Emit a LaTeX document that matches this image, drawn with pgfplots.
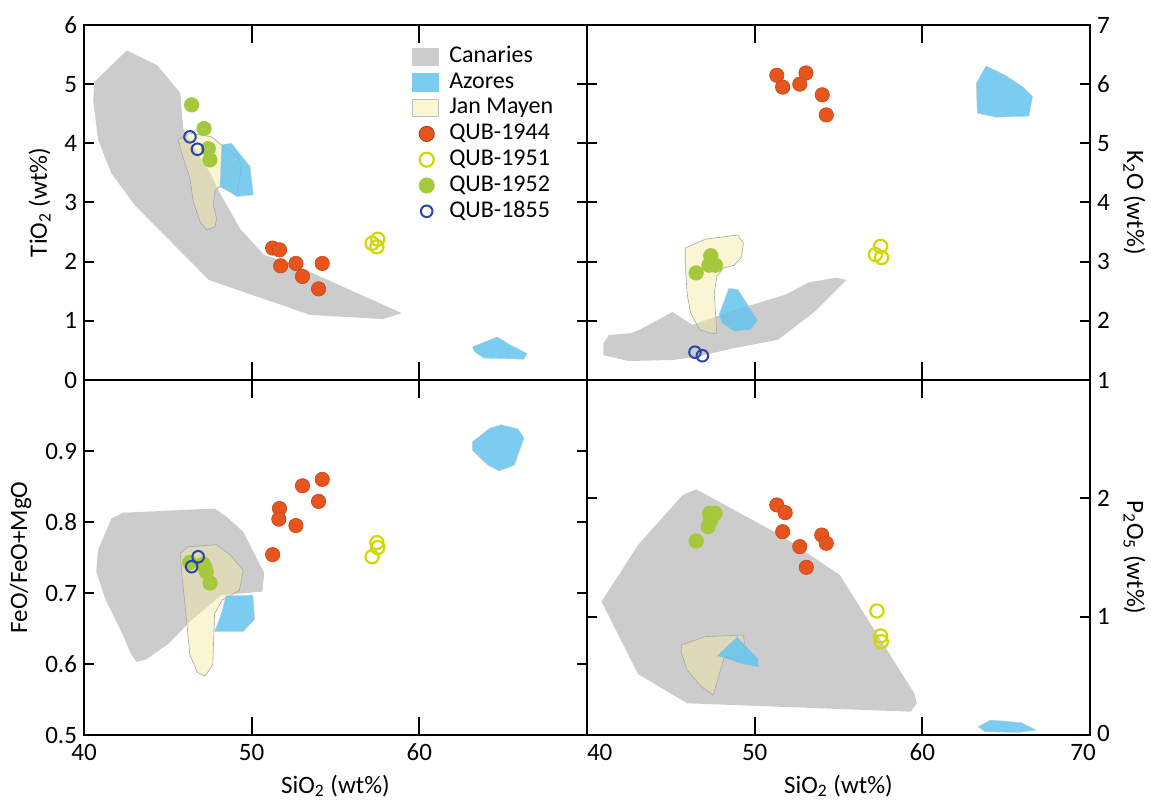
\documentclass[border=0pt]{standalone}
\usepackage{fontspec}
\setmainfont{Carlito}
\usepackage{pgfplots}
\pgfplotsset{compat=1.18}

\definecolor{canary}{RGB}{204,204,204}
\definecolor{azores}{RGB}{100,195,238}
\definecolor{janmayen}{RGB}{245,235,160}
\definecolor{q1944}{RGB}{232,84,30}
\definecolor{q1951}{RGB}{210,215,0}
\definecolor{q1952}{RGB}{165,200,60}
\definecolor{q1855}{RGB}{40,70,170}

\pgfplotsset{
  panel/.style={
    scale only axis, width=251.5pt, height=177.5pt,
    xmin=40, xmax=70, xtick={40,50,60,70},
    tick align=inside, xtick pos=both, ytick pos=both,
    axis line style={line width=1pt},
    every tick/.append style={black, line width=1pt},
    xtick style={/pgfplots/major tick length=9pt},
    ytick style={/pgfplots/major tick length=5pt},
    tick label style={font=\fontsize{12.5}{14}\selectfont},
    xticklabel style={yshift=-1pt},
    label style={font=\fontsize{12.5}{14}\selectfont},
    /pgf/number format/assume math mode=true,
  },
  canarystyle/.style={fill=canary, draw=none, forget plot},
  janstyle/.style={fill=janmayen, fill opacity=0.45, draw=black!35, line width=0.3pt, forget plot},
  azstyle/.style={fill=azores, fill opacity=0.85, draw=black!20, line width=0.2pt, forget plot},
  s1944/.style={only marks, mark=*, mark size=3.6pt, mark options={fill=q1944, draw=q1944!85!black, line width=0.3pt}},
  s1951/.style={only marks, mark=o, mark size=3.3pt, mark options={draw=q1951, line width=1.1pt}},
  s1952/.style={only marks, mark=*, mark size=3.6pt, mark options={fill=q1952, draw=q1952}},
  s1855/.style={only marks, mark=o, mark size=2.9pt, mark options={draw=q1855, line width=1pt}},
}

\begin{document}
\begin{tikzpicture}
\useasboundingbox (-42pt,-210.5pt) rectangle (533.5pt,190pt);

% ---------------- TiO2 ----------------
\begin{axis}[panel, name=tl, at={(0pt,0pt)}, anchor=south west,
  ymin=0, ymax=6, ytick={0,...,6}, xticklabels={},
  ylabel={TiO\textsubscript{2} (wt\%)},
  legend style={draw=none, fill=none, at={(0.64,0.96)}, anchor=north west,
    font=\fontsize{12}{13}\selectfont, row sep=0pt,
    nodes={text height=8.3pt, text depth=2.4pt, inner sep=1.1pt},
    /tikz/every odd column/.append style={column sep=4pt}},
  legend cell align=left]
\addlegendimage{legend image code/.code={\fill[canary] (0pt,-4.3pt) rectangle (13pt,4.3pt);}}
\addlegendentry{Canaries}
\addlegendimage{legend image code/.code={\fill[azores!85!white] (0pt,-4.3pt) rectangle (13pt,4.3pt);}}
\addlegendentry{Azores}
\addlegendimage{legend image code/.code={\filldraw[fill=janmayen!45!white, draw=black!25, line width=0.3pt] (0pt,-4.3pt) rectangle (13pt,4.3pt);}}
\addlegendentry{Jan Mayen}
\addlegendimage{legend image code/.code={\filldraw[fill=q1944, draw=q1944!70!black, line width=0.4pt] (7pt,0pt) circle (3.8pt);}}
\addlegendentry{QUB-1944}
\addlegendimage{legend image code/.code={\draw[draw=q1951, line width=1.1pt] (7pt,0pt) circle (3.5pt);}}
\addlegendentry{QUB-1951}
\addlegendimage{legend image code/.code={\fill[q1952] (7pt,0pt) circle (3.8pt);}}
\addlegendentry{QUB-1952}
\addlegendimage{legend image code/.code={\draw[draw=q1855, line width=1pt] (7pt,0pt) circle (2.9pt);}}
\addlegendentry{QUB-1855}

\addplot[canarystyle] coordinates {(40.62,5.04) (42.55,5.57) (44.37,5.32) (45.74,4.85) (45.92,4.25) (46.72,3.86) (47.61,3.46) (48.01,3.21) (49.30,2.56) (50.75,2.11) (52.35,1.97) (58.95,1.13) (57.81,1.03) (53.49,1.10) (47.45,1.69) (43.01,2.96) (41.64,3.49) (40.84,4.06) (40.55,4.73)} -- cycle;
\addplot[janstyle] coordinates {(45.62,4.06) (46.32,4.17) (47.61,4.11) (48.21,3.97) (49.20,3.77) (49.40,3.60) (49.14,3.13) (48.71,3.18) (48.11,3.27) (47.81,3.21) (47.71,2.96) (47.91,2.73) (47.81,2.59) (47.31,2.54) (46.92,2.68) (46.52,3.01) (46.32,3.41) (45.83,3.83)} -- cycle;
\addplot[azstyle] coordinates {(48.21,3.98) (48.80,4.00) (49.50,3.75) (49.90,3.61) (50.10,3.13) (49.10,3.10) (48.71,3.18) (48.11,3.27)} -- cycle;
\addplot[azstyle] coordinates {(63.17,0.56) (64.65,0.73) (65.44,0.59) (66.42,0.45) (66.24,0.35) (63.85,0.37) (63.28,0.48)} -- cycle;

\addplot[s1944, forget plot] coordinates {(51.25,2.23) (51.66,2.20) (51.73,1.93) (52.64,1.97) (53.03,1.75) (54.21,1.97) (53.99,1.54)};
\addplot[s1951, forget plot] coordinates {(57.18,2.31) (57.52,2.38) (57.47,2.25)};
\addplot[s1952, forget plot] coordinates {(46.42,4.65) (47.16,4.25) (47.41,3.91) (47.51,3.72)};
\addplot[s1855, forget plot] coordinates {(46.32,4.11) (46.77,3.90)};
\end{axis}

% ---------------- K2O ----------------
\begin{axis}[panel, name=tr, at={(251.5pt,0pt)}, anchor=south west,
  ymin=1, ymax=7, ytick={1,...,7}, xticklabels={},
  yticklabel pos=right,
  ylabel={K\textsubscript{2}O (wt\%)}, ylabel style={rotate=180}]
\addplot[canarystyle] coordinates {(40.98,1.62) (41.30,1.76) (42.60,1.79) (43.15,1.85) (45.10,2.15) (46.29,1.93) (48.79,2.18) (51.82,2.44) (53.23,2.65) (54.86,2.73) (55.47,2.69) (53.56,2.15) (51.39,1.68) (48.79,1.54) (46.83,1.41) (45.21,1.34) (42.49,1.32) (40.98,1.42)} -- cycle;
\addplot[janstyle] coordinates {(45.86,3.23) (47.05,3.38) (49.00,3.45) (49.33,3.31) (49.22,3.08) (48.79,2.94) (48.13,2.89) (47.74,2.75) (47.59,2.46) (47.74,1.79) (47.38,1.79) (46.72,1.85) (46.18,2.13) (45.97,2.46) (45.86,2.97)} -- cycle;
\addplot[azstyle] coordinates {(48.46,2.55) (49.00,2.53) (49.65,2.24) (50.20,2.01) (49.76,1.85) (48.79,1.82) (48.03,1.96) (47.87,2.10)} -- cycle;
\addplot[azstyle] coordinates {(63.80,6.31) (64.95,6.15) (66.03,5.95) (66.57,5.79) (66.36,5.46) (64.40,5.44) (63.28,5.51) (63.21,6.01)} -- cycle;

\addplot[s1944] coordinates {(51.32,6.15) (51.67,5.95) (53.06,6.19) (52.69,6.00) (54.03,5.82) (54.27,5.48)};
\addplot[s1951] coordinates {(57.51,3.26) (57.20,3.12) (57.57,3.07)};
\addplot[s1952] coordinates {(46.51,2.81) (47.38,3.10) (47.27,2.94) (47.66,2.94)};
\addplot[s1855] coordinates {(46.44,1.47) (46.88,1.41)};
\end{axis}

% ---------------- FeO/FeO+MgO ----------------
\begin{axis}[panel, name=bl, at={(0pt,0pt)}, anchor=north west,
  ymin=0.5, ymax=1, ytick={0.5,0.6,0.7,0.8,0.9},
  yticklabel style={/pgf/number format/fixed, /pgf/number format/precision=1, /pgf/number format/fixed zerofill},
  xticklabels={40,50,60,{}},
  xlabel={SiO\textsubscript{2} (wt\%)}, ylabel={FeO/FeO+MgO}]
\addplot[canarystyle] coordinates {(41.64,0.805) (42.32,0.813) (47.79,0.819) (48.47,0.808) (49.50,0.786) (50.75,0.728) (50.64,0.702) (48.20,0.697) (46.42,0.662) (45.06,0.629) (43.69,0.606) (43.12,0.603) (42.78,0.615) (42.32,0.641) (41.30,0.690) (40.73,0.730) (40.84,0.761)} -- cycle;
\addplot[janstyle] coordinates {(45.74,0.756) (46.20,0.765) (47.90,0.768) (48.70,0.754) (49.50,0.732) (49.27,0.704) (48.25,0.690) (47.79,0.671) (47.68,0.599) (47.22,0.583) (46.77,0.588) (46.31,0.613) (46.08,0.671) (45.85,0.723)} -- cycle;
\addplot[azstyle] coordinates {(48.47,0.696) (50.07,0.697) (50.18,0.663) (49.50,0.646) (47.79,0.646) (48.20,0.671)} -- cycle;
\addplot[azstyle] coordinates {(63.17,0.913) (64.19,0.932) (64.87,0.937) (65.90,0.931) (66.24,0.918) (65.67,0.880) (64.76,0.872) (64.08,0.880) (63.17,0.901)} -- cycle;

\addplot[s1944] coordinates {(51.25,0.754) (51.66,0.819) (51.62,0.804) (52.64,0.795) (53.03,0.851) (54.21,0.860) (53.99,0.829)};
\addplot[s1951] coordinates {(57.18,0.751) (57.47,0.771) (57.52,0.764)};
\addplot[s1952] coordinates {(46.31,0.743) (47.10,0.741) (47.29,0.730) (47.52,0.714) (47.20,0.737)};
\addplot[s1855] coordinates {(46.42,0.737) (46.81,0.751)};
\end{axis}

% ---------------- P2O5 ----------------
\begin{axis}[panel, name=br, at={(251.5pt,0pt)}, anchor=north west,
  ymin=0, ymax=3, ytick={0,1,2},
  yticklabels={\raisebox{1.5pt}{0},1,2},
  yticklabel pos=right,
  xticklabels={\makebox[0pt][l]{40},50,60,\makebox[0pt]{\hspace*{-7pt}70}},
  xlabel={SiO\textsubscript{2} (wt\%)},
  ylabel={P\textsubscript{2}O\textsubscript{5} (wt\%)}, ylabel style={rotate=180}]
\addplot[canarystyle] coordinates {(40.87,1.127) (43.04,1.606) (45.71,2.028) (46.51,2.076) (51.52,1.690) (55.08,1.352) (59.52,0.352) (59.67,0.268) (59.31,0.197) (45.97,0.268) (43.04,0.515)} -- cycle;
\addplot[janstyle] coordinates {(45.64,0.761) (47.05,0.831) (49.33,0.845) (49.48,0.662) (48.18,0.656) (47.53,0.338) (46.83,0.408) (45.97,0.549) (45.64,0.690)} -- cycle;
\addplot[azstyle] coordinates {(47.74,0.668) (48.96,0.831) (50.20,0.648) (50.26,0.572) (49.20,0.600) (48.00,0.660)} -- cycle;
\addplot[azstyle] coordinates {(63.32,0.070) (64.08,0.127) (65.92,0.104) (66.79,0.042) (65.70,0.020) (63.75,0.028)} -- cycle;

\addplot[s1944] coordinates {(51.32,1.944) (51.82,1.879) (51.67,1.718) (52.69,1.592) (53.08,1.417) (54.00,1.690) (54.27,1.620)};
\addplot[s1951] coordinates {(57.29,1.048) (57.51,0.837) (57.55,0.789)};
\addplot[s1952] coordinates {(46.51,1.639) (47.22,1.761) (47.31,1.873) (47.64,1.873) (47.38,1.817)};
\end{axis}
\end{tikzpicture}
\end{document}
